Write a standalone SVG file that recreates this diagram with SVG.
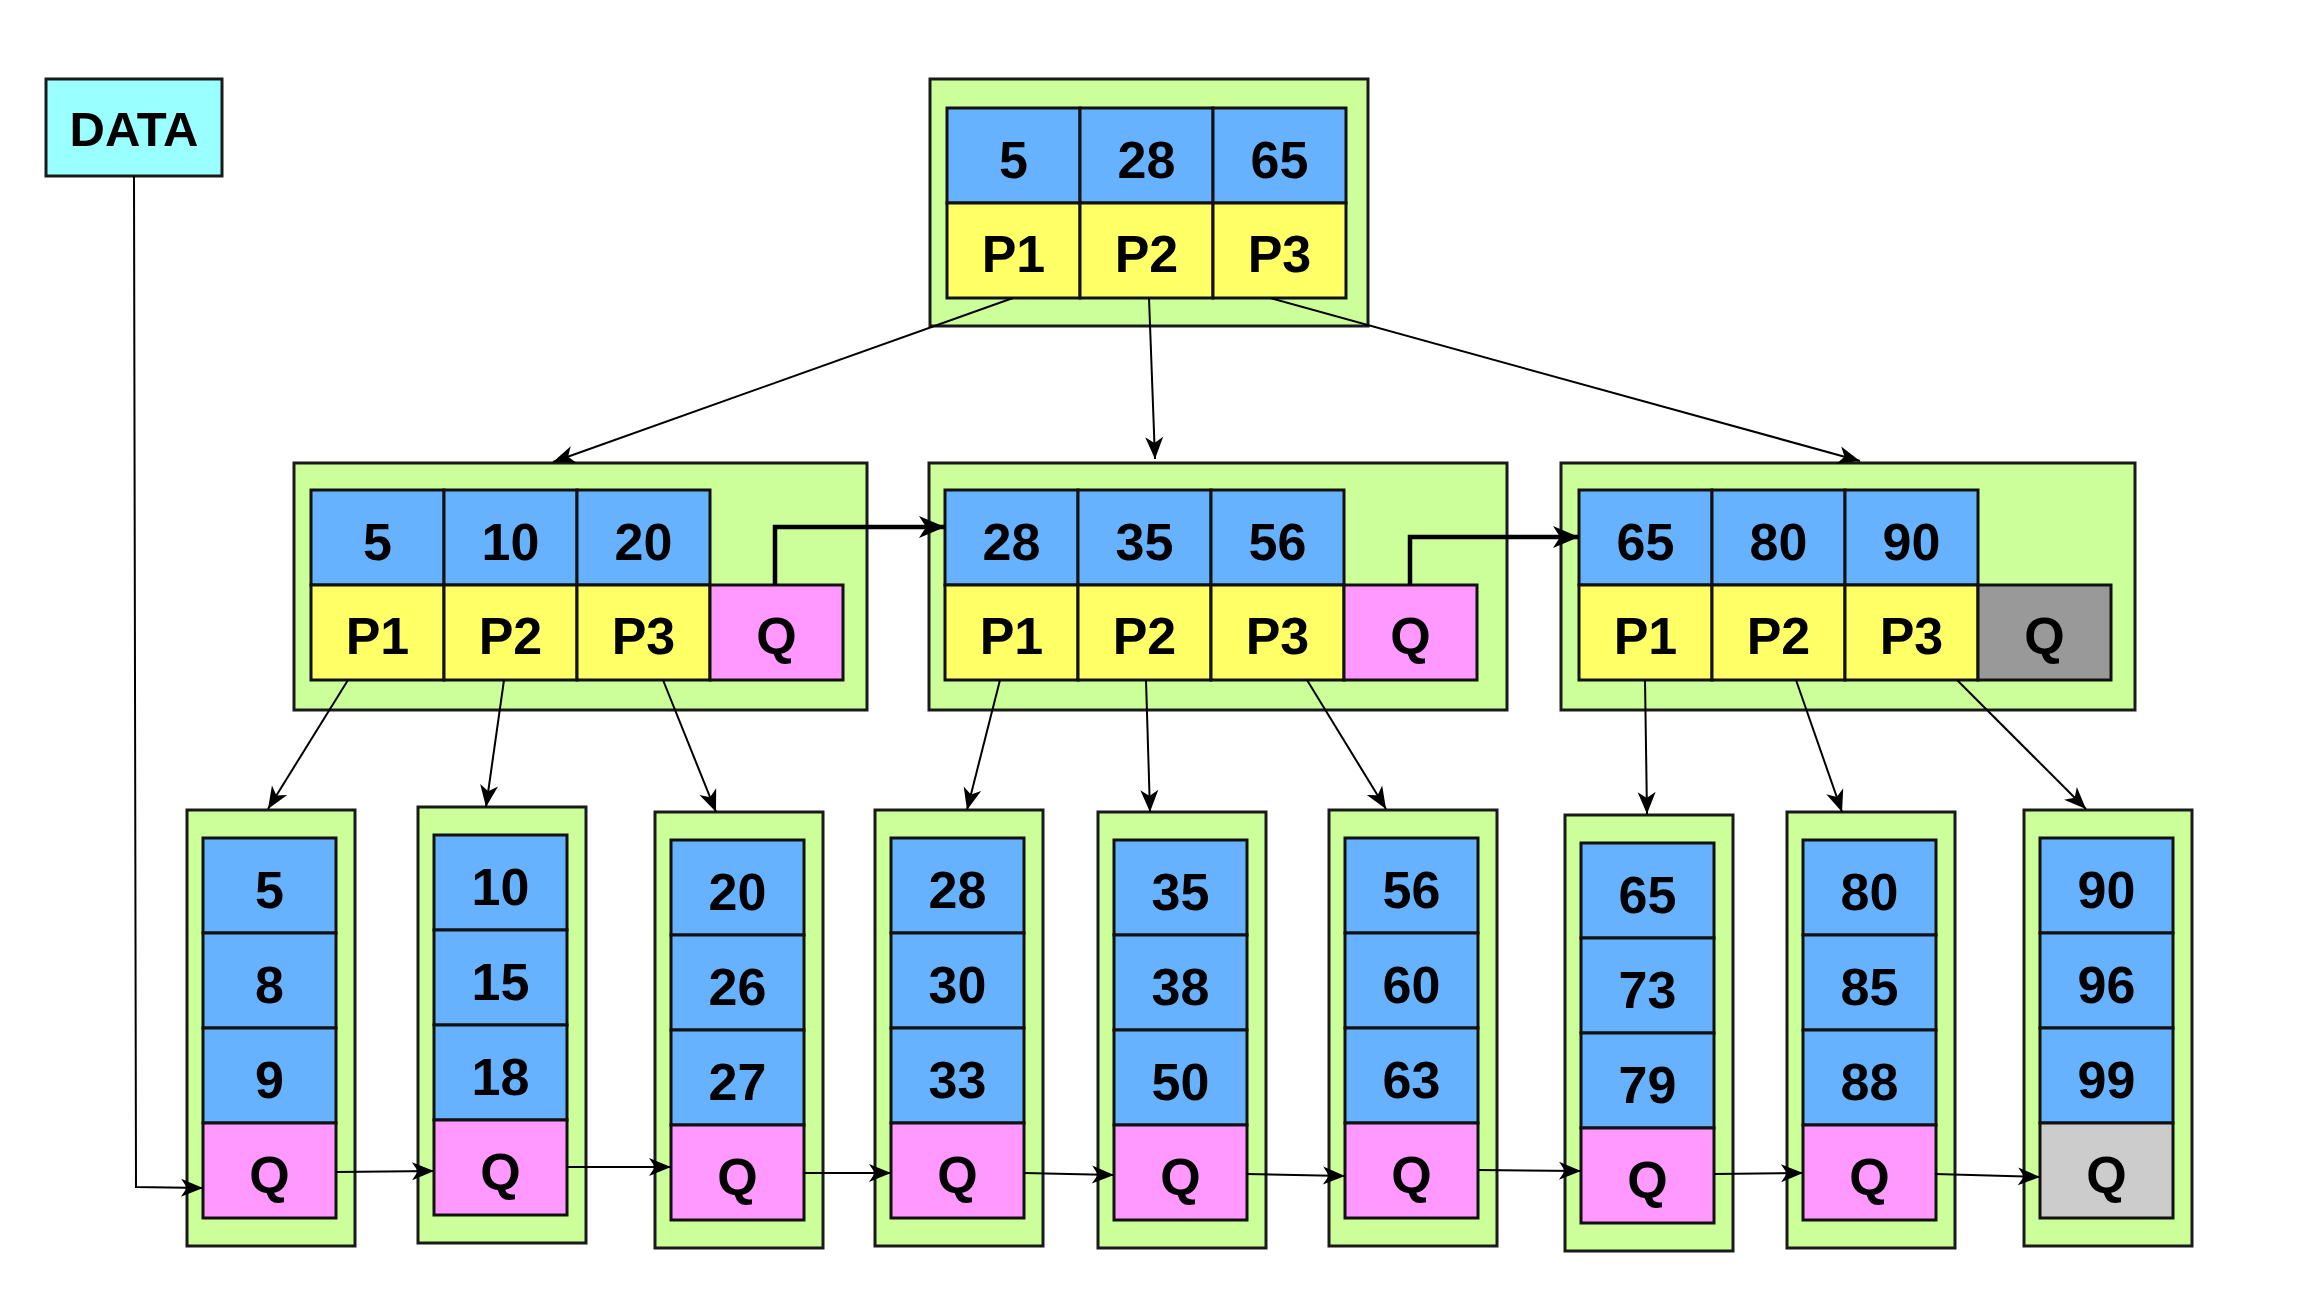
<svg xmlns="http://www.w3.org/2000/svg" width="2310" height="1306" viewBox="0 0 2310 1306">
<defs>
<style>
.outer{fill:#ccff99;stroke:#1a1a1a;stroke-width:3}
.key{fill:#66b2ff;stroke:#111;stroke-width:3}
.ptr{fill:#ffff66;stroke:#111;stroke-width:3}
.q{fill:#ff99ff;stroke:#111;stroke-width:3}
.qd{fill:#999999;stroke:#111;stroke-width:3}
.ql{fill:#cccccc;stroke:#111;stroke-width:3}
.data{fill:#99ffff;stroke:#1a1a1a;stroke-width:3}
text{font-family:"Liberation Sans",Arial,sans-serif;font-weight:bold;font-size:52px;text-anchor:middle;fill:#000}
.ln{fill:none;stroke:#000;stroke-width:2;marker-end:url(#ah)}
.lk{fill:none;stroke:#000;stroke-width:4.5;marker-end:url(#ahb)}
</style>
<marker id="ah" markerUnits="userSpaceOnUse" markerWidth="22" markerHeight="18" refX="22" refY="9" orient="auto" overflow="visible">
<path d="M0,0 L22,9 L0,18 L6,9 Z" fill="#000"/>
</marker>
<marker id="ahb" markerUnits="userSpaceOnUse" markerWidth="26" markerHeight="22" refX="26" refY="11" orient="auto" overflow="visible">
<path d="M0,0 L26,11 L0,22 L7,11 Z" fill="#000"/>
</marker>
</defs>
<rect width="2310" height="1306" fill="#fff"/>

<g id="data">
<rect class="data" x="46" y="79" width="176" height="97"/>
<text x="134" y="146" style="font-size:49px">DATA</text>
</g>

<g id="root">
<rect class="outer" x="930" y="79" width="438" height="247"/>
<rect class="key" x="947" y="108" width="133" height="95"/>
<rect class="key" x="1080" y="108" width="133" height="95"/>
<rect class="key" x="1213" y="108" width="133" height="95"/>
<rect class="ptr" x="947" y="203" width="133" height="95"/>
<rect class="ptr" x="1080" y="203" width="133" height="95"/>
<rect class="ptr" x="1213" y="203" width="133" height="95"/>
<text x="1013.5" y="178">5</text>
<text x="1146.5" y="178">28</text>
<text x="1279.5" y="178">65</text>
<text x="1013.5" y="272">P1</text>
<text x="1146.5" y="272">P2</text>
<text x="1279.5" y="272">P3</text>
</g>

<g id="mid-left">
<rect class="outer" x="294" y="463" width="573" height="247"/>
<rect class="key" x="311" y="490" width="133" height="95"/>
<rect class="key" x="444" y="490" width="133" height="95"/>
<rect class="key" x="577" y="490" width="133" height="95"/>
<rect class="ptr" x="311" y="585" width="133" height="95"/>
<rect class="ptr" x="444" y="585" width="133" height="95"/>
<rect class="ptr" x="577" y="585" width="133" height="95"/>
<rect class="q" x="710" y="585" width="133" height="95"/>
<text x="377.5" y="560">5</text>
<text x="510.5" y="560">10</text>
<text x="643.5" y="560">20</text>
<text x="377.5" y="654">P1</text>
<text x="510.5" y="654">P2</text>
<text x="643.5" y="654">P3</text>
<text x="776.5" y="654">Q</text>
</g>

<g id="mid-middle">
<rect class="outer" x="929" y="463" width="578" height="247"/>
<rect class="key" x="945" y="490" width="133" height="95"/>
<rect class="key" x="1078" y="490" width="133" height="95"/>
<rect class="key" x="1211" y="490" width="133" height="95"/>
<rect class="ptr" x="945" y="585" width="133" height="95"/>
<rect class="ptr" x="1078" y="585" width="133" height="95"/>
<rect class="ptr" x="1211" y="585" width="133" height="95"/>
<rect class="q" x="1344" y="585" width="133" height="95"/>
<text x="1011.5" y="560">28</text>
<text x="1144.5" y="560">35</text>
<text x="1277.5" y="560">56</text>
<text x="1011.5" y="654">P1</text>
<text x="1144.5" y="654">P2</text>
<text x="1277.5" y="654">P3</text>
<text x="1410.5" y="654">Q</text>
</g>

<g id="mid-right">
<rect class="outer" x="1561" y="463" width="574" height="247"/>
<rect class="key" x="1579" y="490" width="133" height="95"/>
<rect class="key" x="1712" y="490" width="133" height="95"/>
<rect class="key" x="1845" y="490" width="133" height="95"/>
<rect class="ptr" x="1579" y="585" width="133" height="95"/>
<rect class="ptr" x="1712" y="585" width="133" height="95"/>
<rect class="ptr" x="1845" y="585" width="133" height="95"/>
<rect class="qd" x="1978" y="585" width="133" height="95"/>
<text x="1645.5" y="560">65</text>
<text x="1778.5" y="560">80</text>
<text x="1911.5" y="560">90</text>
<text x="1645.5" y="654">P1</text>
<text x="1778.5" y="654">P2</text>
<text x="1911.5" y="654">P3</text>
<text x="2044.5" y="654">Q</text>
</g>

<g id="leaf1" transform="translate(187,810)">
<rect class="outer" x="0" y="0" width="168" height="436"/>
<rect class="key" x="16" y="28" width="133" height="95"/>
<rect class="key" x="16" y="123" width="133" height="95"/>
<rect class="key" x="16" y="218" width="133" height="95"/>
<rect class="q" x="16" y="313" width="133" height="95"/>
<text x="82.5" y="98">5</text><text x="82.5" y="193">8</text><text x="82.5" y="288">9</text><text x="82.5" y="383">Q</text>
</g>
<g id="leaf2" transform="translate(418,807)">
<rect class="outer" x="0" y="0" width="168" height="436"/>
<rect class="key" x="16" y="28" width="133" height="95"/>
<rect class="key" x="16" y="123" width="133" height="95"/>
<rect class="key" x="16" y="218" width="133" height="95"/>
<rect class="q" x="16" y="313" width="133" height="95"/>
<text x="82.5" y="98">10</text><text x="82.5" y="193">15</text><text x="82.5" y="288">18</text><text x="82.5" y="383">Q</text>
</g>
<g id="leaf3" transform="translate(655,812)">
<rect class="outer" x="0" y="0" width="168" height="436"/>
<rect class="key" x="16" y="28" width="133" height="95"/>
<rect class="key" x="16" y="123" width="133" height="95"/>
<rect class="key" x="16" y="218" width="133" height="95"/>
<rect class="q" x="16" y="313" width="133" height="95"/>
<text x="82.5" y="98">20</text><text x="82.5" y="193">26</text><text x="82.5" y="288">27</text><text x="82.5" y="383">Q</text>
</g>
<g id="leaf4" transform="translate(875,810)">
<rect class="outer" x="0" y="0" width="168" height="436"/>
<rect class="key" x="16" y="28" width="133" height="95"/>
<rect class="key" x="16" y="123" width="133" height="95"/>
<rect class="key" x="16" y="218" width="133" height="95"/>
<rect class="q" x="16" y="313" width="133" height="95"/>
<text x="82.5" y="98">28</text><text x="82.5" y="193">30</text><text x="82.5" y="288">33</text><text x="82.5" y="383">Q</text>
</g>
<g id="leaf5" transform="translate(1098,812)">
<rect class="outer" x="0" y="0" width="168" height="436"/>
<rect class="key" x="16" y="28" width="133" height="95"/>
<rect class="key" x="16" y="123" width="133" height="95"/>
<rect class="key" x="16" y="218" width="133" height="95"/>
<rect class="q" x="16" y="313" width="133" height="95"/>
<text x="82.5" y="98">35</text><text x="82.5" y="193">38</text><text x="82.5" y="288">50</text><text x="82.5" y="383">Q</text>
</g>
<g id="leaf6" transform="translate(1329,810)">
<rect class="outer" x="0" y="0" width="168" height="436"/>
<rect class="key" x="16" y="28" width="133" height="95"/>
<rect class="key" x="16" y="123" width="133" height="95"/>
<rect class="key" x="16" y="218" width="133" height="95"/>
<rect class="q" x="16" y="313" width="133" height="95"/>
<text x="82.5" y="98">56</text><text x="82.5" y="193">60</text><text x="82.5" y="288">63</text><text x="82.5" y="383">Q</text>
</g>
<g id="leaf7" transform="translate(1565,815)">
<rect class="outer" x="0" y="0" width="168" height="436"/>
<rect class="key" x="16" y="28" width="133" height="95"/>
<rect class="key" x="16" y="123" width="133" height="95"/>
<rect class="key" x="16" y="218" width="133" height="95"/>
<rect class="q" x="16" y="313" width="133" height="95"/>
<text x="82.5" y="98">65</text><text x="82.5" y="193">73</text><text x="82.5" y="288">79</text><text x="82.5" y="383">Q</text>
</g>
<g id="leaf8" transform="translate(1787,812)">
<rect class="outer" x="0" y="0" width="168" height="436"/>
<rect class="key" x="16" y="28" width="133" height="95"/>
<rect class="key" x="16" y="123" width="133" height="95"/>
<rect class="key" x="16" y="218" width="133" height="95"/>
<rect class="q" x="16" y="313" width="133" height="95"/>
<text x="82.5" y="98">80</text><text x="82.5" y="193">85</text><text x="82.5" y="288">88</text><text x="82.5" y="383">Q</text>
</g>
<g id="leaf9" transform="translate(2024,810)">
<rect class="outer" x="0" y="0" width="168" height="436"/>
<rect class="key" x="16" y="28" width="133" height="95"/>
<rect class="key" x="16" y="123" width="133" height="95"/>
<rect class="key" x="16" y="218" width="133" height="95"/>
<rect class="ql" x="16" y="313" width="133" height="95"/>
<text x="82.5" y="98">90</text><text x="82.5" y="193">96</text><text x="82.5" y="288">99</text><text x="82.5" y="383">Q</text>
</g>

<g id="connectors">
<path class="ln" d="M1013,298 L553,462"/>
<path class="ln" d="M1149,298 L1155,459"/>
<path class="ln" d="M1270,298 L1860,461"/>
<path class="ln" d="M348,680 L268,809"/>
<path class="ln" d="M504,680 L486,807"/>
<path class="ln" d="M663,680 L716,812"/>
<path class="ln" d="M1000,680 L967,810"/>
<path class="ln" d="M1146,680 L1150,812"/>
<path class="ln" d="M1307,680 L1386,809"/>
<path class="ln" d="M1645,680 L1647,814"/>
<path class="ln" d="M1796,680 L1842,812"/>
<path class="ln" d="M1957,680 L2086,809"/>
<path class="lk" d="M775,585 V527 H945"/>
<path class="lk" d="M1410,585 V537 H1579"/>
<path class="ln" d="M134,176 L136,1187 L203,1188"/>
<path class="ln" d="M336,1172 L434,1171"/>
<path class="ln" d="M567,1167 L671,1167"/>
<path class="ln" d="M803,1173 L891,1173"/>
<path class="ln" d="M1024,1173 L1114,1175"/>
<path class="ln" d="M1247,1174 L1345,1176"/>
<path class="ln" d="M1478,1170 L1581,1171"/>
<path class="ln" d="M1714,1174 L1803,1173"/>
<path class="ln" d="M1935,1174 L2040,1177"/>
</g>
</svg>
